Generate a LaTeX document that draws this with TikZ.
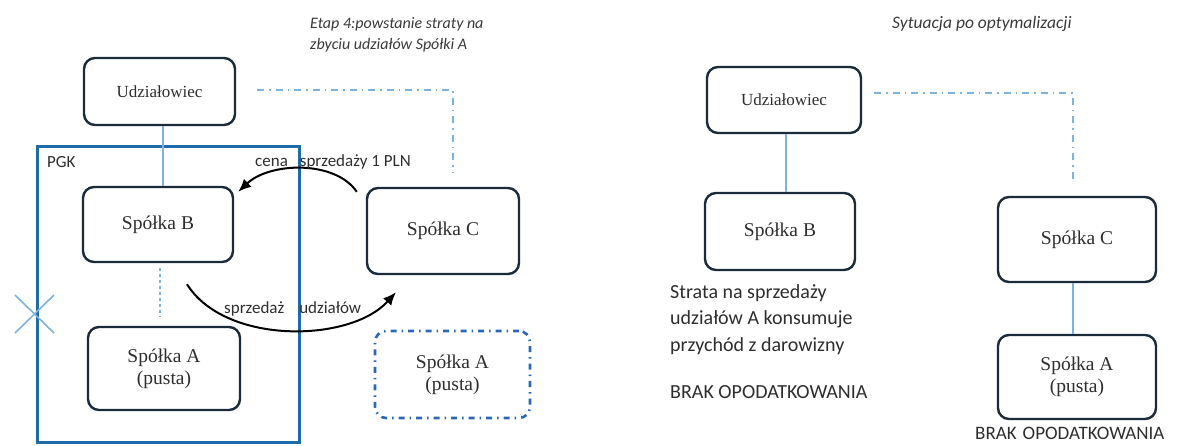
\documentclass[tikz,border=0pt]{standalone}
\usepackage{fontspec}
\setmainfont{Liberation Serif}
\newfontfamily\carlito{Carlito}
\usetikzlibrary{arrows.meta}
\definecolor{boxline}{HTML}{1C2B3C}
\definecolor{pgkblue}{HTML}{1E6BAA}
\definecolor{linkblue}{HTML}{7DB3DC}
\definecolor{dashblue}{HTML}{2C68B5}
\definecolor{titlegray}{HTML}{3A3A3A}
\definecolor{textgray}{HTML}{2E2E2E}
\begin{document}
\begin{tikzpicture}[x=1pt,y=-1pt,
  entity/.style={draw=boxline, line width=2.4pt, rounded corners=11pt, fill=white,
    inner sep=0pt, align=center, text=black!82,
    font=\fontsize{19.5}{22}\selectfont},
  ownerbox/.style={entity, font=\fontsize{17}{20}\selectfont},
  emptybox/.style={entity, draw=dashblue, line width=2.6pt,
    dash pattern=on 6pt off 5pt on 1.5pt off 5pt},
  group/.style={draw=pgkblue, line width=3pt, inner sep=0pt},
  owner/.style={draw=linkblue, line width=1.1pt},
  linkdash/.style={draw=linkblue, line width=1.3pt,
    dash pattern=on 7pt off 5pt on 1.5pt off 5pt},
  flow/.style={draw=black, line width=2pt, -{Latex[length=13pt,width=11pt]}},
  flowlabel/.style={font=\carlito\fontsize{17}{19}\selectfont, text=textgray, inner sep=0pt},
  heading/.style={font=\carlito\itshape\fontsize{16}{20}\selectfont, text=titlegray, inner sep=0pt},
  note/.style={font=\carlito\fontsize{20}{24}\selectfont, text=textgray, inner sep=0pt},
  cross/.style={draw=linkblue, line width=1.6pt}
]
\useasboundingbox (0,0) rectangle (1186,445);

% ---------- left: stage 4 ----------
\node[heading, anchor=base west] (titleL1) at (310,28) {Etap 4:powstanie straty na};
\node[heading, anchor=base west] (titleL2) at (310,49) {zbyciu udziałów Spółki A};

\node[group, minimum width=262, minimum height=296] (pgk) at (168,294) {};
\node[flowlabel, anchor=west] (pgklabel) at (47,162) {PGK};

\node[ownerbox, minimum width=151, minimum height=67] (uL) at (159.5,91.5) {Udziałowiec};
\node[entity, minimum width=150, minimum height=75] (bL) at (158,224.5) {Spółka B};
\node[entity, minimum width=152, minimum height=86] (cL) at (443,231) {Spółka C};
\node[entity, minimum width=152, minimum height=83] (aL) at (164,368.5) {Spółka A\\(pusta)};
\node[emptybox, minimum width=155, minimum height=87] (aD) at (452.5,374.5) {Spółka A\\(pusta)};

% ownership links
\coordinate (ownC) at (453,173);
\draw[owner] ([xshift=3.5pt]uL.south) -- ([xshift=5pt]bL.north);
\draw[linkdash] ([xshift=21pt,yshift=1.5pt]uL.east) -| (ownC);
\draw[owner, dashed] ([xshift=2pt,yshift=-5pt]bL.south) -- ([xshift=-4pt,yshift=9pt]aL.north);

% struck-out link of company A
\coordinate (xc) at (34.5,314);
\draw[cross] ([shift={(-19.5,-19)}]xc) -- ([shift={(19.5,19)}]xc);
\draw[cross] ([shift={(19.5,-19)}]xc) -- ([shift={(-19.5,19)}]xc);

% price paid by C to B
\draw[flow] ([shift={(-9,5)}]cL.north west) .. controls (335,160) and (270,162) .. ([shift={(4,6)}]bL.north east);
\node[flowlabel, anchor=west] (priceL) at (255,162) {cena\hspace{12pt}sprzedaży 1 PLN};

% shares sold by B to C
\draw[flow] ([shift={(29,21)}]bL.south) .. controls (225,345) and (350,343) .. ([shift={(-47,17)}]cL.south);
\node[flowlabel, anchor=west] (saleL) at (224,309) {sprzedaż\hspace{15pt}udziałów};

% ---------- right: after optimisation ----------
\node[heading, anchor=base west, font=\carlito\itshape\fontsize{17.5}{20}\selectfont] (titleR) at (892,28) {Sytuacja po optymalizacji};

\node[ownerbox, minimum width=154, minimum height=66] (uR) at (784,100) {Udziałowiec};
\node[entity, minimum width=150, minimum height=77] (bR) at (780,231.5) {Spółka B};
\node[entity, minimum width=158, minimum height=85] (cR) at (1077,239.5) {Spółka C};
\node[entity, minimum width=158, minimum height=84] (aR) at (1077,377) {Spółka A\\(pusta)};

\coordinate (ownCR) at (1073,181);
\draw[owner] ([xshift=2pt]uR.south) -- ([xshift=6pt]bR.north);
\draw[linkdash] ([xshift=12pt,yshift=7pt]uR.east) -| (ownCR);
\draw[owner] ([xshift=-4pt]cR.south) -- ([xshift=-4pt]aR.north);

\node[note, anchor=base west] (loss1) at (670,298) {Strata na sprzedaży};
\node[note, anchor=base west] (loss2) at (670,324.5) {udziałów A konsumuje};
\node[note, anchor=base west] (loss3) at (670,351) {przychód z darowizny};
\node[note, anchor=base west] (taxB) at (670,398.5) {BRAK OPODATKOWANIA};
\node[note, anchor=base west, font=\carlito\fontsize{19}{22}\selectfont] (taxA) at (975,439) {BRAK\hspace{6pt}OPODATKOWANIA};
\end{tikzpicture}
\end{document}
